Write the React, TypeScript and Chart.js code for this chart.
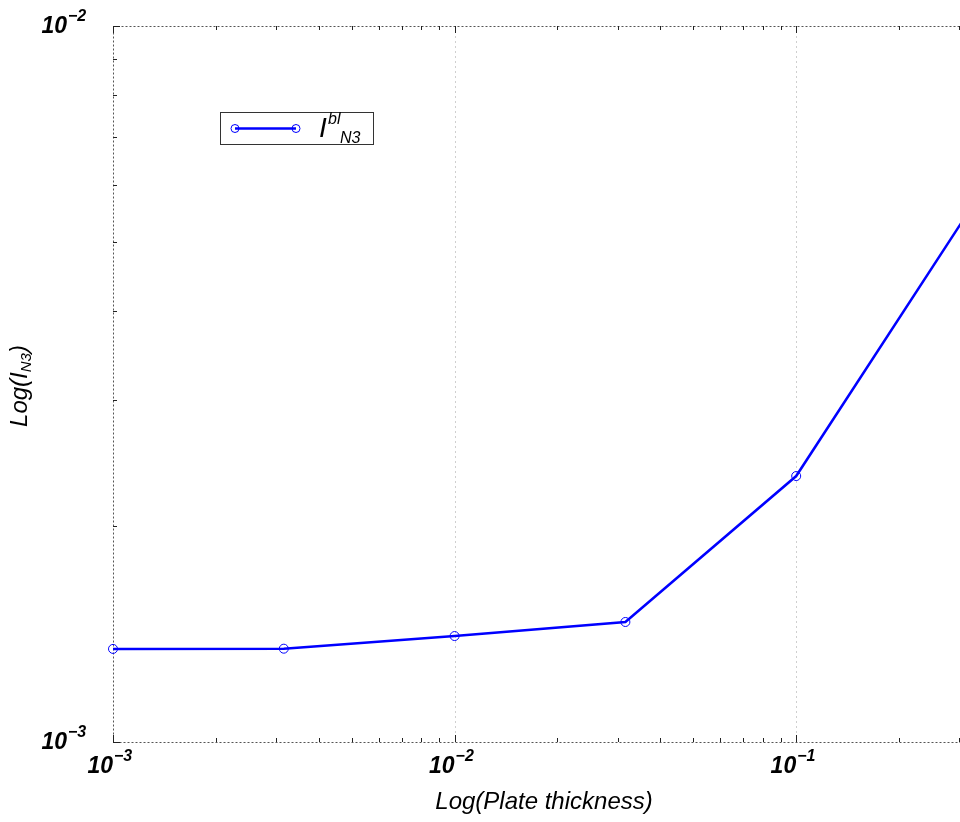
import React, { useEffect, useRef } from "react";
import { Chart, registerables } from "chart.js";

Chart.register(...registerables);

const thickness: number[] = [0.001, 0.0031623, 0.01, 0.031623, 0.1, 0.31623];
const intensityN3: number[] = [0.001349, 0.00135, 0.001406, 0.001471, 0.002352, 0.00546];
const xDecades: number[] = [-3, -2, -1];
const yDecades: number[] = [-3, -2];
const xTitle = "Log(Plate thickness)";
const seriesName = "I";

const FONT = '"Liberation Sans", Arial, sans-serif';

function drawPow(ctx: CanvasRenderingContext2D, x: number, y: number, exp: number, mode: "x" | "y") {
  ctx.save();
  ctx.fillStyle = "#000";
  ctx.font = `italic bold 23px ${FONT}`;
  ctx.textAlign = "right";
  ctx.textBaseline = "middle";
  let baseX: number, baseY: number;
  if (mode === "y") {
    baseX = x - 46;
    baseY = y + 1;
  } else {
    baseX = x;
    baseY = y + 25;
  }
  ctx.fillText("10", baseX, baseY);
  ctx.font = `italic bold 16px ${FONT}`;
  ctx.textAlign = "left";
  ctx.textBaseline = "alphabetic";
  ctx.fillText("\u2212" + Math.abs(exp), baseX + 1, baseY - 6);
  ctx.restore();
}

const framePlugin = {
  id: "frame",
  beforeDatasetsDraw(chart: any) {
    const { ctx, chartArea } = chart;
    const { left, right, top, bottom } = chartArea;
    const xs = chart.scales.x;
    const ys = chart.scales.y;
    ctx.save();
    ctx.strokeStyle = "#cfcfcf";
    ctx.lineWidth = 1;
    ctx.setLineDash([2, 3]);
    xDecades.forEach((d) => {
      const px = Math.round(xs.getPixelForValue(Math.pow(10, d))) + 0.5;
      if (px > left + 2 && px < right - 2) {
        ctx.beginPath();
        ctx.moveTo(px, top);
        ctx.lineTo(px, bottom);
        ctx.stroke();
      }
    });
    ctx.strokeStyle = "#555";
    ctx.setLineDash([2, 2]);
    ctx.strokeRect(Math.round(left) + 0.5, Math.round(top) + 0.5, Math.round(right - left), Math.round(bottom - top));
    ctx.setLineDash([]);
    ctx.strokeStyle = "#222";
    xDecades.forEach((d) => {
      for (let k = 1; k <= 9; k++) {
        const v = k * Math.pow(10, d);
        if (v < xs.min * 0.999 || v > xs.max * 1.001) continue;
        const px = Math.round(xs.getPixelForValue(v)) + 0.5;
        const len = k === 1 ? 7 : 4;
        ctx.beginPath();
        ctx.moveTo(px, bottom);
        ctx.lineTo(px, bottom - len);
        ctx.moveTo(px, top);
        ctx.lineTo(px, top + len);
        ctx.stroke();
      }
    });
    yDecades.forEach((d) => {
      for (let k = 1; k <= 9; k++) {
        const v = k * Math.pow(10, d);
        if (v < ys.min * 0.999 || v > ys.max * 1.001) continue;
        const py = Math.round(ys.getPixelForValue(v)) + 0.5;
        const len = k === 1 ? 7 : 4;
        ctx.beginPath();
        ctx.moveTo(left, py);
        ctx.lineTo(left + len, py);
        ctx.moveTo(right, py);
        ctx.lineTo(right - len, py);
        ctx.stroke();
      }
    });
    ctx.restore();
  },
  afterDraw(chart: any) {
    const { ctx, chartArea } = chart;
    const { left, bottom } = chartArea;
    const xs = chart.scales.x;
    const ys = chart.scales.y;
    xDecades.forEach((d) => {
      drawPow(ctx, xs.getPixelForValue(Math.pow(10, d)), bottom, d, "x");
    });
    yDecades.forEach((d) => {
      drawPow(ctx, left, ys.getPixelForValue(Math.pow(10, d)), d, "y");
    });
    ctx.save();
    ctx.fillStyle = "#000";
    ctx.font = `italic 24px ${FONT}`;
    ctx.textAlign = "center";
    ctx.textBaseline = "middle";
    ctx.fillText(xTitle, 544, 802);
    ctx.translate(19, 386);
    ctx.rotate(-Math.PI / 2);
    ctx.font = `italic 24px ${FONT}`;
    ctx.textAlign = "left";
    ctx.textBaseline = "alphabetic";
    const p1 = "Log(I";
    const w1 = ctx.measureText(p1).width;
    ctx.font = `italic 15px ${FONT}`;
    const w2 = ctx.measureText("N3").width;
    ctx.font = `italic 24px ${FONT}`;
    const w3 = ctx.measureText(")").width;
    const total = w1 + w2 + w3;
    let cx = -total / 2;
    ctx.fillText(p1, cx, 8);
    cx += w1;
    ctx.font = `italic 15px ${FONT}`;
    ctx.fillText("N3", cx, 12);
    cx += w2;
    ctx.font = `italic 24px ${FONT}`;
    ctx.fillText(")", cx, 8);
    ctx.restore();

    ctx.save();
    ctx.fillStyle = "#fff";
    ctx.fillRect(220, 112, 153, 32);
    ctx.strokeStyle = "#333";
    ctx.lineWidth = 1;
    ctx.strokeRect(220.5, 112.5, 153, 32);
    ctx.strokeStyle = "#0000ff";
    ctx.lineWidth = 2.5;
    ctx.beginPath();
    ctx.moveTo(235, 128.5);
    ctx.lineTo(296, 128.5);
    ctx.stroke();
    ctx.lineWidth = 1;
    [235, 296].forEach((x) => {
      ctx.beginPath();
      ctx.arc(x, 128.5, 4, 0, Math.PI * 2);
      ctx.stroke();
    });
    ctx.fillStyle = "#000";
    ctx.textBaseline = "alphabetic";
    ctx.textAlign = "left";
    ctx.font = `italic 28px ${FONT}`;
    ctx.fillText(seriesName, 319, 137);
    ctx.font = `italic 16px ${FONT}`;
    ctx.fillText("bl", 328, 124);
    ctx.fillText("N3", 340, 143);
    ctx.restore();
  },
};

export default function App() {
  const ref = useRef<HTMLCanvasElement>(null);
  useEffect(() => {
    if (!ref.current) return;
    const chart = new Chart(ref.current, {
      type: "line",
      data: {
        datasets: [
          {
            label: "I_N3^bl",
            data: thickness.map((x, i) => ({ x, y: intensityN3[i] })),
            borderColor: "#0000ff",
            borderWidth: 2.5,
            pointRadius: 4.5,
            pointBorderWidth: 1,
            pointBorderColor: "#0000ff",
            pointBackgroundColor: "rgba(0,0,0,0)",
            pointStyle: "circle",
            tension: 0,
            clip: 6,
          },
        ],
      },
      options: {
        animation: false,
        responsive: false,
        maintainAspectRatio: false,
        events: [],
        layout: { padding: { top: 26, right: 33, left: 0, bottom: 0 } },
        plugins: { legend: { display: false }, tooltip: { enabled: false } },
        scales: {
          x: {
            type: "logarithmic",
            min: 0.001,
            max: Math.pow(10, -0.5),
            ticks: { display: false },
            grid: { display: false },
            border: { display: false },
            afterFit: (s: any) => {
              s.height = 80;
            },
          },
          y: {
            type: "logarithmic",
            min: 0.001,
            max: 0.01,
            ticks: { display: false },
            grid: { display: false },
            border: { display: false },
            afterFit: (s: any) => {
              s.width = 113;
            },
          },
        },
      },
      plugins: [framePlugin],
    });
    return () => chart.destroy();
  }, []);
  return (
    <div
      style={{
        position: "fixed",
        left: 0,
        top: 0,
        width: 960,
        height: 822,
        overflow: "hidden",
        background: "#fff",
      }}
    >
      <canvas ref={ref} width={1000} height={822} style={{ width: 1000, height: 822, display: "block" }} />
    </div>
  );
}
